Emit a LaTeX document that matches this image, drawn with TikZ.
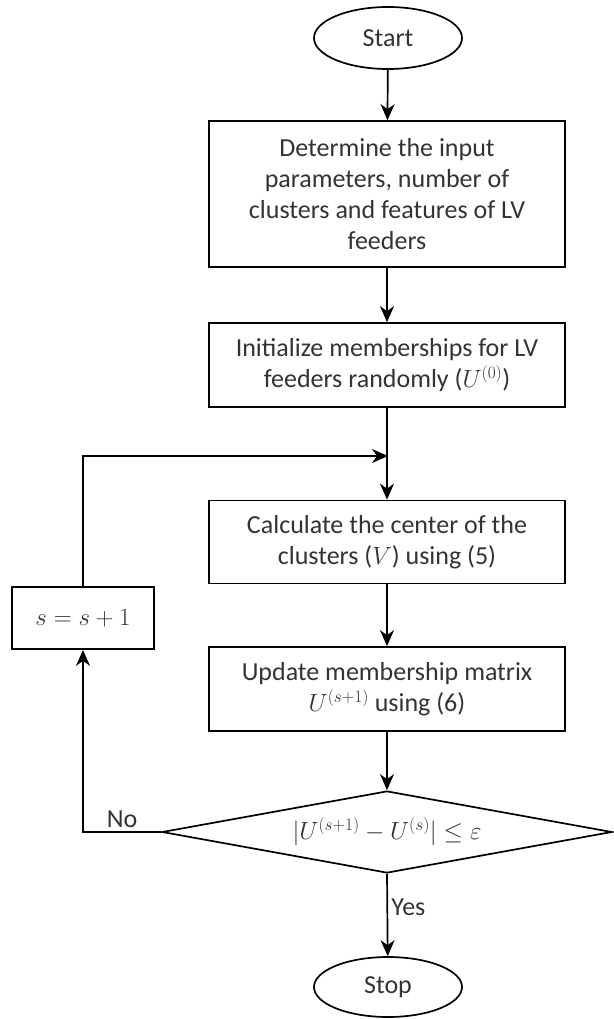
\documentclass[tikz,border=0pt]{standalone}
\usepackage{fontspec}
\setmainfont{Carlito}
\usetikzlibrary{shapes.geometric,arrows.meta}
\tikzset{
  stepbox/.style={rectangle,draw,line width=1.7pt,minimum width=356pt,align=center,text=black!80,inner sep=0pt},
  terminal/.style={ellipse,draw,line width=1.7pt,minimum width=148pt,minimum height=62pt,text=black!80,inner sep=0pt},
}
\begin{document}
\begin{tikzpicture}[x=1pt,y=-1pt,line width=1.7pt,>={Stealth[length=16pt,width=14pt,inset=5pt]},
    font=\fontsize{26}{31}\selectfont]
    \useasboundingbox (0,0) rectangle (613,1019);
    \node[terminal] (start) at (388,38) {Start};
    \node[stepbox,minimum height=146pt] (determine) at (387,194) {Determine the input\\parameters, number of\\clusters and features of LV\\feeders};
    \node[stepbox,minimum height=84pt] (init) at (387,365) {Initialize memberships for LV\\feeders randomly ($U^{(0)}$)};
    \coordinate (join) at (388,456);
    \node[stepbox,minimum height=83pt] (center) at (387,542) {Calculate the center of the\\clusters ($V$) using (5)};
    \node[stepbox,minimum width=142pt,minimum height=62pt] (incr) at (83,618) {$s=s+1$};
    \node[stepbox,minimum height=84pt] (update) at (387,689) {Update membership matrix\\$U^{(s+1)}$ using (6)};
    \node[diamond,draw,line width=1.7pt,aspect=5.5,minimum width=450pt,minimum height=82pt,inner sep=0pt,text=black!80] (check) at (387,832) {$|U^{(s+1)}-U^{(s)}|\le\varepsilon$};
    \coordinate (turn) at (83,832);
    \node[terminal,minimum height=60pt] (stop) at (388,987) {Stop};
    \draw[->] (start) -- (determine);
    \draw[->] (determine) -- (init);
    \draw[->] (init) -- (center);
    \draw[->] (incr.north) |- (join);
    \draw[->] (center) -- (update);
    \draw[->] (update) -- (check);
    \draw[->] (check.west) --node[above,text=black!80] {No} (turn) -- (incr.south);
    \draw[->] (check.south) --node[right,pos=0.4,text=black!80] {Yes} (stop);
\end{tikzpicture}
\end{document}
